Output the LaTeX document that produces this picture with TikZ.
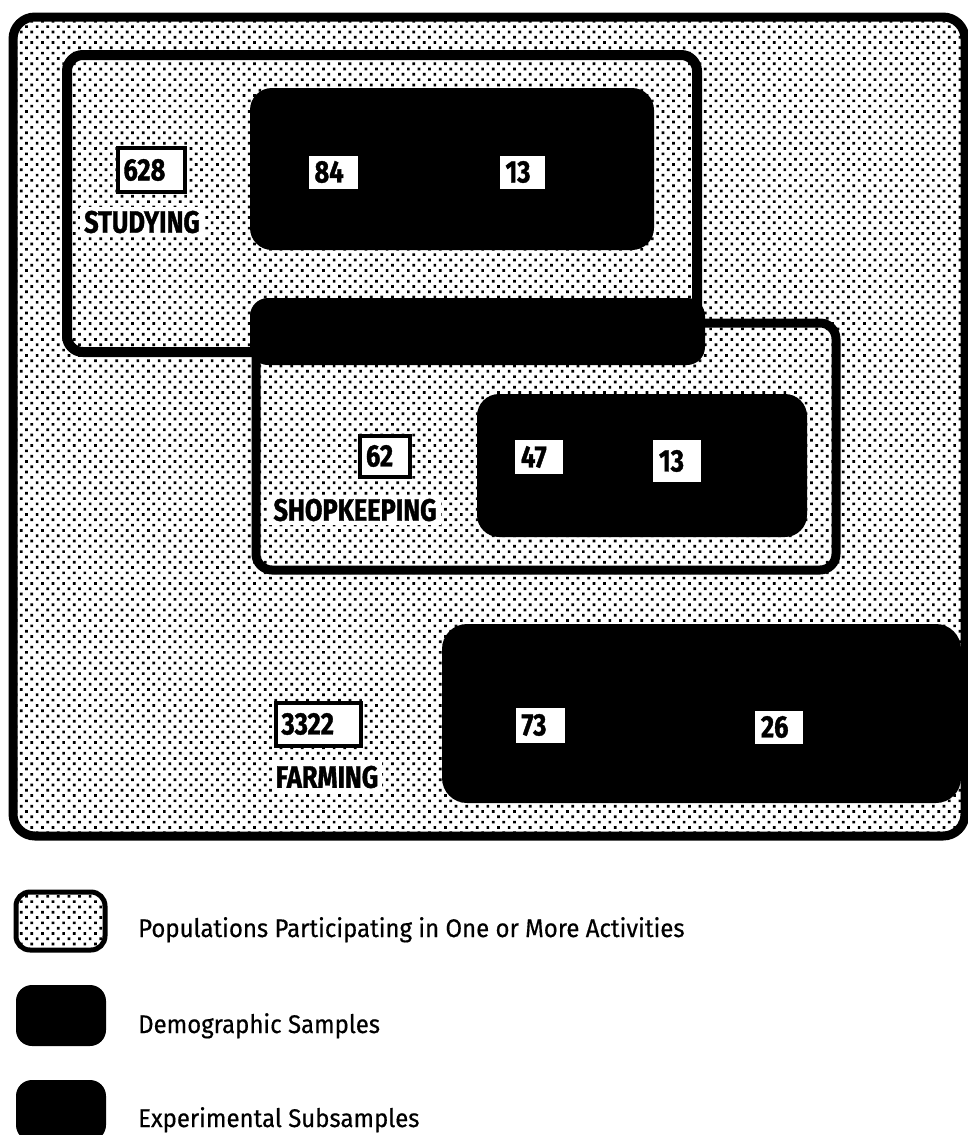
\documentclass[tikz,border=0pt]{standalone}
\usepackage{fontspec}
\setmainfont{Fira Sans}
\newfontfamily\labelfont[FakeStretch=0.82, BoldFeatures={FakeBold=1.2}]{Fira Sans}
\newfontfamily\legendfont[FakeStretch=0.94, FakeBold=0.5]{Fira Sans}
\usetikzlibrary{patterns.meta}

\begin{document}
\begin{tikzpicture}[
    x=1pt, y=-1pt,
    popbox/.style={draw=black, line width=9pt, rounded corners=16pt,
        preaction={fill=white},
        pattern={Dots[distance=7.5pt, radius=1.9pt, angle=45]}},
    samplebox/.style={fill=black, rounded corners=22pt},
    countbox/.style={fill=white, inner xsep=6pt, inner ysep=0pt, align=left,
        font=\labelfont\bfseries\fontsize{31}{31}\selectfont},
    popcount/.style={countbox, draw=black, line width=4pt},
    actlabel/.style={fill=white, inner sep=4pt,
        font=\labelfont\bfseries\fontsize{31}{31}\selectfont},
    legendtext/.style={anchor=base west, inner sep=0pt,
        font=\legendfont\fontsize{25.5}{25.5}\selectfont}
]

\def\lx{138}

\useasboundingbox[fill=white] (0,0) rectangle (967,1135);

% activity populations
\draw[popbox, rounded corners=22pt] (13,17) rectangle (965,836);
\draw[popbox, line width=10pt] (67,55) rectangle (697,352);
\draw[popbox] (256,323) rectangle (836,570);

% demographic samples
\fill[samplebox] (250,88) rectangle (654,250);
\fill[samplebox, rounded corners=18pt] (250,298) rectangle (705,365);
\fill[samplebox] (477,394) rectangle (807,537);
\fill[samplebox, rounded corners=25pt] (442,624) rectangle (961,803);

% studying
\node[popcount, text width=55, minimum height=44] (nstudy) at (151,170) {628};
\node[actlabel] (lstudy) at (142,222) {STUDYING};
\node[countbox, text width=37, minimum height=33] (dstudy) at (333,172) {84};
\node[countbox, text width=33, minimum height=33] (xstudy) at (522,172) {13};

% shopkeeping
\node[popcount, text width=38, minimum height=41] (nshop) at (385,456) {62};
\node[actlabel] (lshop) at (355,510) {SHOPKEEPING};
\node[countbox, text width=36, minimum height=34] (dshop) at (539,457) {47};
\node[countbox, text width=36, minimum height=42] (xshop) at (677,461) {13};

% farming
\node[popcount, text width=73, minimum height=43] (nfarm) at (318,724) {3322};
\node[actlabel] (lfarm) at (327,777) {FARMING};
\node[countbox, text width=37, minimum height=35] (dfarm) at (540,725) {73};
\node[countbox, text width=36, minimum height=33] (xfarm) at (779,727) {26};

% legend
\draw[popbox, line width=5pt, rounded corners=14pt] (16,892) rectangle (105,950);
\fill[samplebox, rounded corners=16pt] (16,985) rectangle (106,1046);
\fill[samplebox, rounded corners=16pt] (16,1080) rectangle (106,1141);
\node[legendtext] (tpop) at (\lx,937) {Populations Participating in One or More Activities};
\node[legendtext] (tdemo) at (\lx,1033) {Demographic Samples};
\node[legendtext] (texp) at (\lx,1127) {Experimental Subsamples};

\end{tikzpicture}
\end{document}
